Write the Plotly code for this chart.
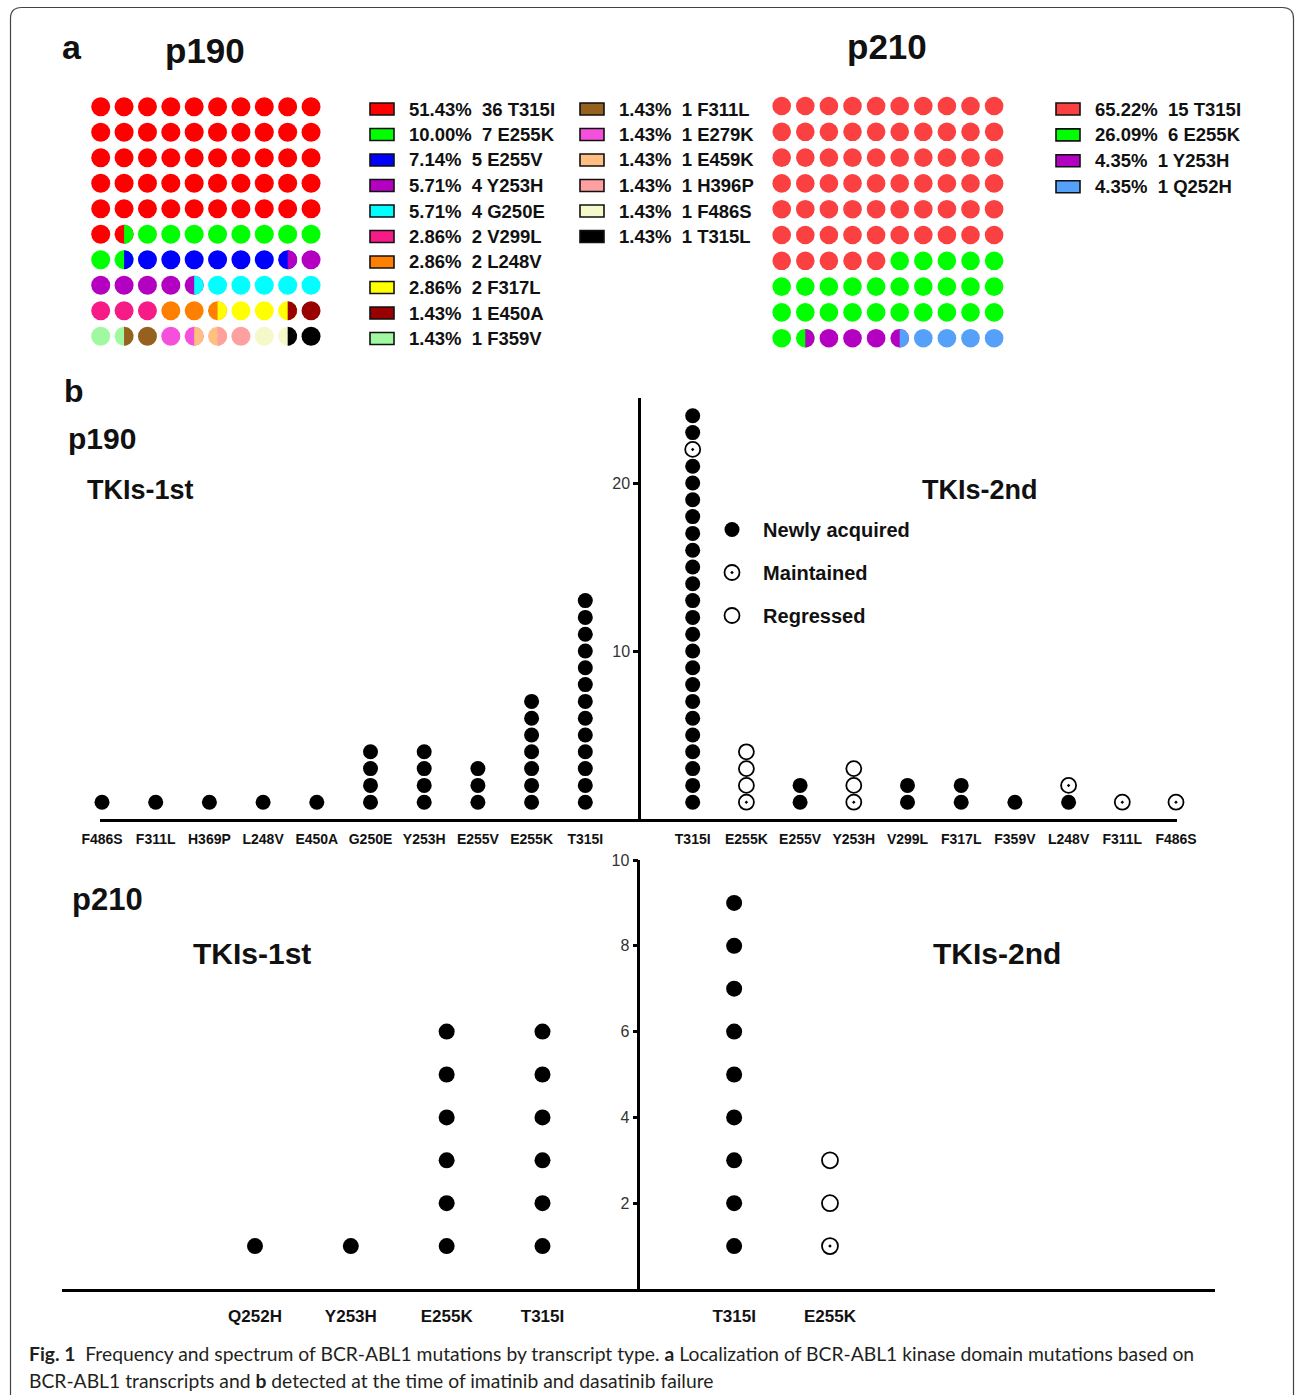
import numpy as np
import plotly.graph_objects as go

W, H = 1295, 1395
def fx(px): return px / W
def fy(py): return 1 - py / H

FONT = "Liberation Sans, Arial, sans-serif"

# ---------------- data: panel a (waffles) ----------------
p190_mut = ["T315I", "E255K", "E255V", "Y253H", "G250E", "V299L", "L248V", "F317L",
            "E450A", "F359V", "F311L", "E279K", "E459K", "H396P", "F486S", "T315L"]
p190_cnt = [36, 7, 5, 4, 4, 2, 2, 2, 1, 1, 1, 1, 1, 1, 1, 1]
p190_col = ["#FF0000", "#00FF00", "#0000FF", "#B400C0", "#00FFFF", "#F71B87", "#FF8000", "#FFFF00",
            "#990000", "#A0F8A0", "#96601E", "#F550DC", "#FFBF80", "#FFA0A0", "#F5F8C8", "#000000"]

p210_mut = ["T315I", "E255K", "Y253H", "Q252H"]
p210_cnt = [15, 6, 1, 1]
p210_col = ["#FA4040", "#00FF00", "#B400C0", "#55A0F8"]

# ---------------- data: panel b (dot plots) ----------------
# N = newly acquired, M = maintained, R = regressed (listed bottom -> top)
p190_tki1_labels = ["F486S", "F311L", "H369P", "L248V", "E450A", "G250E", "Y253H", "E255V", "E255K", "T315I"]
p190_tki1_stacks = ["N", "N", "N", "N", "N", "NNNN", "NNNN", "NNN", "NNNNNNN", "NNNNNNNNNNNNN"]
p190_tki2_labels = ["T315I", "E255K", "E255V", "Y253H", "V299L", "F317L", "F359V", "L248V", "F311L", "F486S"]
p190_tki2_stacks = ["NNNNNNNNNNNNNNNNNNNNNMNN", "MRRR", "NN", "MRR", "NN", "NN", "N", "NM", "M", "M"]

p210_tki1_labels = ["Q252H", "Y253H", "E255K", "T315I"]
p210_tki1_stacks = ["N", "N", "NNNNNN", "NNNNNN"]
p210_tki2_labels = ["T315I", "E255K"]
p210_tki2_stacks = ["NNNNNNNNN", "MRR"]

status_names = {"N": "Newly acquired", "M": "Maintained", "R": "Regressed"}

fig = go.Figure()

# ---------------- waffle helper ----------------
def waffle_cells(counts, n=100, thr=0.25):
    total = sum(counts)
    cum = np.concatenate([[0.0], np.cumsum(np.array(counts) / total * n)])
    cells = []
    for k in range(n):
        fr = [max(0.0, min(k + 1, cum[i + 1]) - max(k, cum[i])) for i in range(len(counts))]
        idx = [i for i, f in enumerate(fr) if f > 1e-9]
        if len(idx) == 1:
            cells.append((idx[0],))
        else:
            a, b = idx[0], idx[1]
            if min(fr[a], fr[b]) >= thr:
                cells.append((a, b))
            else:
                cells.append((a,) if fr[a] >= fr[b] else (b,))
    return cells

def add_waffle(counts, colors, xa, ya, cx0, dx, cy0, dy, diam):
    left, right = cx0 - dx / 2, cx0 + 9.5 * dx
    top, bottom = cy0 - dy / 2, cy0 + 9.5 * dy
    fig.layout[xa.replace("x", "xaxis")] = dict(domain=[fx(left), fx(right)], range=[-0.5, 9.5],
                                               visible=False, fixedrange=True)
    fig.layout[ya.replace("y", "yaxis")] = dict(domain=[fy(bottom), fy(top)], range=[9.5, -0.5],
                                               visible=False, fixedrange=True)
    rx = (diam / 2) / dx
    ry = (diam / 2) / dy
    cells = waffle_cells(counts)
    full = {}
    polys = {}
    t_full = np.linspace(0, 2 * np.pi, 60)
    t_right = np.linspace(-np.pi / 2, np.pi / 2, 40)
    for k, cell in enumerate(cells):
        r, c = divmod(k, 10)
        if len(cell) == 1:
            full.setdefault(cell[0], ([], []))
            full[cell[0]][0].append(c)
            full[cell[0]][1].append(r)
        else:
            a, b = cell
            px_ = list(c + rx * np.cos(t_full)) + [None]
            py_ = list(r + ry * np.sin(t_full)) + [None]
            polys.setdefault(("L", a), ([], []))
            polys[("L", a)][0].extend(px_)
            polys[("L", a)][1].extend(py_)
            qx = list(c + rx * np.cos(t_right)) + [c, None]
            qy = list(r + ry * np.sin(t_right)) + [r - ry, None]
            polys.setdefault(("R", b), ([], []))
            polys[("R", b)][0].extend(qx)
            polys[("R", b)][1].extend(qy)
    for i, (xs, ys) in full.items():
        fig.add_trace(go.Scatter(x=xs, y=ys, mode="markers", xaxis=xa, yaxis=ya, showlegend=False,
                                 hoverinfo="skip",
                                 marker=dict(size=diam, color=colors[i], line=dict(width=0))))
    for side in ("L", "R"):
        for (s, i), (xs, ys) in polys.items():
            if s != side:
                continue
            fig.add_trace(go.Scatter(x=xs, y=ys, mode="lines", fill="toself", fillcolor=colors[i],
                                     line=dict(width=0, color=colors[i]), xaxis=xa, yaxis=ya,
                                     showlegend=False, hoverinfo="skip"))

add_waffle(p190_cnt, p190_col, "x", "y", 100.7, 23.37, 106.7, 25.5, 19)
add_waffle(p210_cnt, p210_col, "x2", "y2", 781.7, 23.6, 106.0, 25.8, 18.6)

shapes = []
annotations = []

def waffle_legend(names, counts, colors, col_x, row_y0, row_dy, per_col):
    total = sum(counts)
    for i, (nm, ct, cl) in enumerate(zip(names, counts, colors)):
        ci, ri = divmod(i, per_col)
        sx = col_x[ci]
        sy = row_y0 + ri * row_dy
        shapes.append(dict(type="rect", xref="paper", yref="paper",
                           x0=fx(sx), x1=fx(sx + 24), y0=fy(sy + 6), y1=fy(sy - 6),
                           fillcolor=cl, line=dict(color="#111111", width=1.6)))
        txt = f"{100 * ct / total:.2f}%\u00a0\u00a0{ct} {nm}"
        annotations.append(dict(text=txt, xref="paper", yref="paper", x=fx(sx + 37), y=fy(sy),
                                xanchor="left", yanchor="middle", showarrow=False,
                                font=dict(family=FONT, size=18.5, color="#111111", weight="bold")))

waffle_legend(p190_mut, p190_cnt, p190_col, [370, 580], 109, 25.5, 10)
waffle_legend(p210_mut, p210_cnt, p210_col, [1056], 109, 25.9, 10)

# ---------------- dot plots ----------------
def add_dotplot(xa, ya, left_labels, left_stacks, right_labels, right_stacks, size, legend):
    gap = len(left_labels)
    xs = {"N": [], "M": [], "R": []}
    ys = {"N": [], "M": [], "R": []}
    for j, st in enumerate(left_stacks):
        for h, s in enumerate(st):
            xs[s].append(j); ys[s].append(h + 1)
    for j, st in enumerate(right_stacks):
        for h, s in enumerate(st):
            xs[s].append(gap + 1 + j); ys[s].append(h + 1)
    styles = {
        "N": dict(symbol="circle", color="black", line=dict(width=0)),
        "M": dict(symbol="circle-open-dot", color="black", line=dict(width=1.8, color="black")),
        "R": dict(symbol="circle-open", color="black", line=dict(width=1.8, color="black")),
    }
    for s in ("N", "M", "R"):
        fig.add_trace(go.Scatter(x=xs[s], y=ys[s], mode="markers", xaxis=xa, yaxis=ya,
                                 name="\u00a0\u00a0" + status_names[s], legendgroup=s,
                                 showlegend=legend, cliponaxis=False, hoverinfo="skip",
                                 marker=dict(size=size, **styles[s])))
    tickvals = list(range(gap)) + [gap + 1 + j for j in range(len(right_labels))]
    ticktext = list(left_labels) + list(right_labels)
    return tickvals, ticktext

tv1, tt1 = add_dotplot("x3", "y3", p190_tki1_labels, p190_tki1_stacks,
                       p190_tki2_labels, p190_tki2_stacks, 15, True)
tv2, tt2 = add_dotplot("x4", "y4", p210_tki1_labels, p210_tki1_stacks,
                       p210_tki2_labels, p210_tki2_stacks, 16, False)

x0_px, step1 = 102.0, 53.7
fig.update_layout(
    xaxis3=dict(domain=[fx(100), fx(1177)],
                range=[(100 - x0_px) / step1, (1177 - x0_px) / step1],
                anchor="y3", showline=True, linewidth=3, linecolor="black",
                showgrid=False, zeroline=False, ticks="", tickvals=tv1, ticktext=tt1,
                ticklabelstandoff=5,
                tickfont=dict(family=FONT, size=14, color="#111111", weight="bold"), fixedrange=True),
    yaxis3=dict(domain=[fy(819), fy(398)], range=[0, (819 - 398) / 16.8],
                anchor="free", position=fx(x0_px + step1 * len(p190_tki1_labels)),
                showline=True, linewidth=2.5, linecolor="black", showgrid=False, zeroline=False,
                ticks="outside", ticklen=5, tickwidth=2.5, tickcolor="black", tickvals=[10, 20],
                tickfont=dict(family=FONT, size=16, color="#333333"), fixedrange=True),
)
x0b_px, step2 = 255.0, 95.83
fig.update_layout(
    xaxis4=dict(domain=[fx(62), fx(1215)],
                range=[(62 - x0b_px) / step2, (1215 - x0b_px) / step2],
                anchor="y4", showline=True, linewidth=3, linecolor="black",
                showgrid=False, zeroline=False, ticks="", tickvals=tv2, ticktext=tt2,
                ticklabelstandoff=10,
                tickfont=dict(family=FONT, size=17, color="#111111", weight="bold"), fixedrange=True),
    yaxis4=dict(domain=[fy(1289), fy(860)], range=[0, 10],
                anchor="free", position=fx(x0b_px + step2 * len(p210_tki1_labels)),
                showline=True, linewidth=2.5, linecolor="black", showgrid=False, zeroline=False,
                ticks="outside", ticklen=5, tickwidth=2.5, tickcolor="black", tickvals=[2, 4, 6, 8, 10],
                tickfont=dict(family=FONT, size=16, color="#333333"), fixedrange=True),
)

# ---------------- titles / labels ----------------
def label(text, x, y, size, anchor="center"):
    annotations.append(dict(text=text, xref="paper", yref="paper", x=fx(x), y=fy(y),
                            xanchor=anchor, yanchor="middle", showarrow=False,
                            font=dict(family=FONT, size=size, color="#111111", weight="bold")))

label("a", 72, 47, 34)
label("p190", 205, 50, 35)
label("p210", 887, 47, 35)
label("b", 74, 391, 32)
label("p190", 102, 438, 30)
label("TKIs-1st", 140, 490, 27)
label("TKIs-2nd", 980, 490, 27)
label("p210", 107, 899, 31)
label("TKIs-1st", 252, 953, 30)
label("TKIs-2nd", 997, 953, 30)

CAP = "Lato, Open Sans, sans-serif"
annotations.append(dict(
    text="<b>Fig. 1</b>\u00a0\u00a0Frequency and spectrum of BCR-ABL1 mutations by transcript type. "
         "<b>a</b> Localization of BCR-ABL1 kinase domain mutations based on",
    xref="paper", yref="paper", x=fx(27), y=fy(1353), xanchor="left", yanchor="middle",
    showarrow=False, font=dict(family=CAP, size=19.3, color="#231f20")))
annotations.append(dict(
    text="BCR-ABL1 transcripts and <b>b</b> detected at the time of imatinib and dasatinib failure",
    xref="paper", yref="paper", x=fx(27), y=fy(1380), xanchor="left", yanchor="middle",
    showarrow=False, font=dict(family=CAP, size=19.3, color="#231f20")))

# frame (rounded top corners)
r = 11
L, T, R, B = 10.5, 7.5, 1293.5, 1420
path = (f"M {fx(L)} {fy(B)} L {fx(L)} {fy(T + r)} Q {fx(L)} {fy(T)} {fx(L + r)} {fy(T)} "
        f"L {fx(R - r)} {fy(T)} Q {fx(R)} {fy(T)} {fx(R)} {fy(T + r)} L {fx(R)} {fy(B)}")
shapes.append(dict(type="path", xref="paper", yref="paper", path=path,
                   line=dict(color="#444444", width=1.2)))

fig.update_layout(
    width=W, height=H, margin=dict(l=0, r=0, t=0, b=0, pad=0, autoexpand=False),
    paper_bgcolor="white", plot_bgcolor="white",
    shapes=shapes, annotations=annotations,
    showlegend=True,
    legend=dict(x=fx(712), y=fy(510), xanchor="left", yanchor="top",
                bgcolor="rgba(0,0,0,0)", borderwidth=0, tracegroupgap=14,
                font=dict(family=FONT, size=20, color="#111111", weight="bold"),
                traceorder="grouped"),
)

fig.write_html("out.html", config={"displayModeBar": False},
               post_script="document.body.style.margin='0';document.body.style.padding='0';"
                           "document.body.style.overflow='hidden';")
